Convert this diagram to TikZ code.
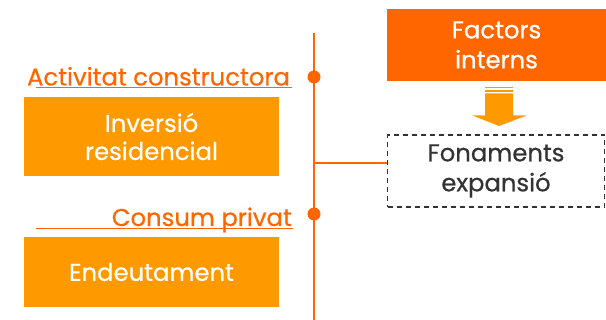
\documentclass[tikz,border=0pt]{standalone}
\usepackage{fontspec}
\setmainfont{Poppins}[FakeBold=0.6]
\definecolor{orA}{HTML}{FF6600}
\definecolor{orB}{HTML}{FF9900}
\definecolor{dgray}{HTML}{333333}
\begin{document}
\begin{tikzpicture}[x=1pt,y=-1pt,
  fbox/.style={fill=orB,draw=none,text=white,align=center,inner sep=0pt},
  olabel/.style={text=orA,inner sep=0pt,anchor=base},
  oline/.style={draw=orA,line width=2pt},
  uline/.style={draw=orA,line width=1pt},
  dotst/.style={circle,fill=orA,inner sep=0pt,minimum size=13pt}]
\useasboundingbox (0,0) rectangle (606,320);
\tikzset{txt/.style={font=\fontsize{24.3}{29}\selectfont}}
% vertical axis
\coordinate (top) at (314,33);
\coordinate (bot) at (314,320);
\draw[oline] (top) -- (bot);
\node[dotst] (d1) at (314,77) {};
\node[dotst] (d2) at (314,214) {};
% left labels
\node[olabel,txt,anchor=base] (act) at (158.5,85.5) {Activitat constructora};
\coordinate (u1a) at (36,88); \coordinate (u1b) at (292,88);
\draw[uline] (u1a) -- (u1b);
\node[olabel,txt,anchor=base east] (cons) at (292,226) {Consum privat};
\coordinate (u2a) at (36,229); \coordinate (u2b) at (293,229);
\draw[uline] (u2a) -- (u2b);
% left boxes
\node[fbox,txt,minimum width=255pt,minimum height=79pt] (inv) at (151.5,136.5) {Inversió\\[-1pt]residencial};
\node[fbox,txt,minimum width=255pt,minimum height=70pt] (end) at (151.5,272) {Endeutament};
% right boxes
\node[fbox,fill=orA,txt,minimum width=219pt,minimum height=72pt] (fac) at (496.5,45) {Factors\\[1pt]interns};
\node[draw=dgray,dash pattern=on 5pt off 4pt,line width=1.8pt,text=dgray,txt,align=center,inner sep=0pt,minimum width=217pt,minimum height=72pt] (fon) at (496,171) {Fonaments\\[1pt]expansió};
% connector
\coordinate (hc) at (314,163);
\draw[oline,line width=1.5pt] (hc) -- (hc -| fon.west);
% block arrow
\fill[orB] (485,87) rectangle (513,88.5);
\fill[orB] (485,89.8) rectangle (513,92.3);
\fill[orB] (485,93.5) -- (513,93.5) -- (513,115.5) -- (526.5,115.5) -- (499,126) -- (472.5,115.5) -- (485,115.5) -- cycle;
\end{tikzpicture}
\end{document}
